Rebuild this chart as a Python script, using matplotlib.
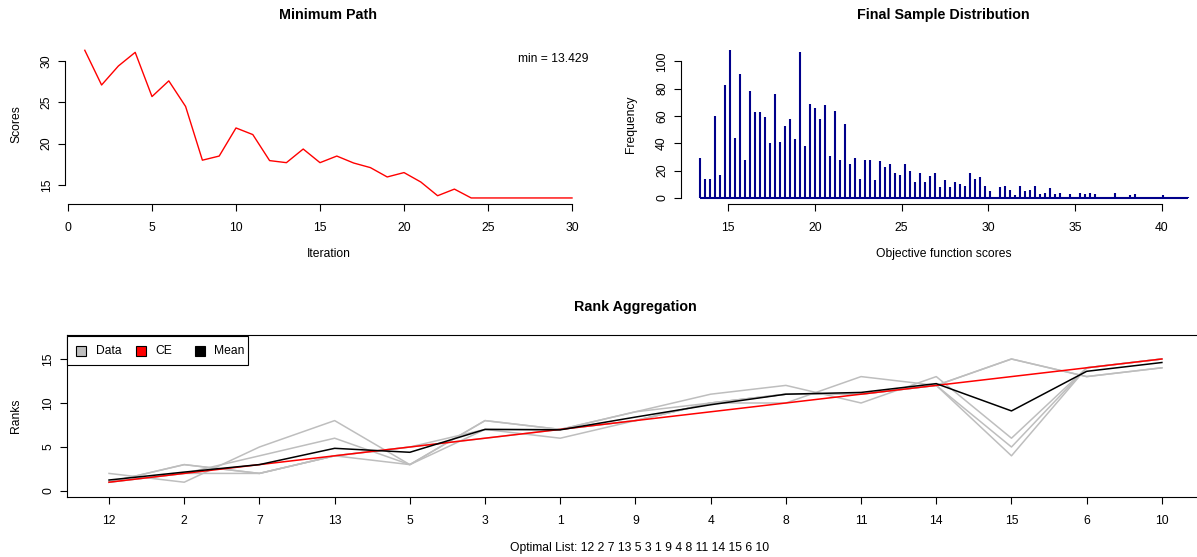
import matplotlib
matplotlib.use("Agg")
import matplotlib.pyplot as plt
from matplotlib.patches import Rectangle
import numpy as np

plt.rcParams['font.family'] = ['Liberation Sans', 'DejaVu Sans']

# ---------------- data ----------------
iterations = np.arange(1, 31)
min_scores = [31.3, 27.1, 29.4, 31.05, 25.7, 27.6, 24.5, 18.0, 18.5, 21.9,
              21.1, 17.95, 17.7, 19.35, 17.7, 18.5, 17.66, 17.1, 15.97, 16.5,
              15.36, 13.7, 14.5, 13.429, 13.429, 13.429, 13.429, 13.429, 13.429, 13.429]
min_label = "min = 13.429"

sample_scores = [13.39, 13.68, 13.97, 14.26, 14.55, 14.84, 15.13, 15.42, 15.71, 15.99,
                 16.28, 16.57, 16.86, 17.14, 17.43, 17.72, 18.01, 18.29, 18.58, 18.87,
                 19.16, 19.45, 19.73, 20.02, 20.31, 20.60, 20.89, 21.17, 21.46, 21.75,
                 22.04, 22.32, 22.61, 22.90, 23.19, 23.48, 23.76, 24.05, 24.34, 24.63,
                 24.92, 25.20, 25.49, 25.78, 26.07, 26.36, 26.64, 26.93, 27.22, 27.51,
                 27.80, 28.08, 28.37, 28.66, 28.95, 29.24, 29.52, 29.81, 30.10, 30.39,
                 30.68, 30.96, 31.25, 31.54, 31.83, 32.12, 32.40, 32.69, 32.98, 33.27,
                 33.56, 33.84, 34.13, 34.42, 34.71, 35.00, 35.28, 35.57, 35.86, 36.15,
                 36.44, 36.72, 37.01, 37.30, 37.59, 37.88, 38.16, 38.45, 38.74, 40.04,
                 41.48]
sample_freq = [29, 14, 14, 60, 17, 83, 108, 44, 91, 28,
               78, 63, 63, 59, 40, 76, 41, 53, 58, 43,
               107, 38, 69, 66, 58, 68, 31, 64, 28, 54,
               25, 29, 14, 28, 28, 13, 27, 23, 25, 18,
               17, 25, 20, 12, 18, 12, 16, 18, 8, 13,
               8, 12, 10, 9, 18, 14, 15, 9, 5, 1,
               8, 9, 6, 2, 9, 5, 6, 9, 3, 4,
               7, 3, 4, 1, 3, 1, 4, 3, 4, 3,
               1, 1, 1, 4, 1, 1, 2, 3, 1, 2,
               1]

optimal_list = ['12', '2', '7', '13', '5', '3', '1', '9', '4', '8', '11', '14', '15', '6', '10']
data_ranks = [
    [2, 1, 5, 8, 3, 8, 7, 9, 11, 12, 10, 13, 6, 14, 15],
    [1, 3, 2, 4, 3, 8, 7, 9, 10, 10, 13, 12, 15, 13, 14],
    [1, 2, 4, 6, 3, 7, 6, 8, 10, 11, 11, 12, 5, 14, 15],
    [1, 2, 2, 4, 5, 6, 7, 8, 10, 11, 11, 12, 4, 14, 15],
    [1, 3, 2, 4, 5, 7, 7, 8, 10, 11, 11, 12, 15, 13, 14],
]
ce_ranks = [1, 2, 3, 4, 5, 6, 7, 8, 9, 10, 11, 12, 13, 14, 15]
mean_ranks = [1.25, 2.15, 3.0, 4.85, 4.4, 7.0, 6.95, 8.4, 9.8, 11.0, 11.2, 12.2, 9.1, 13.6, 14.6]
legend_labels = ['Data', 'CE', 'Mean']
legend_colors = ['#BEBEBE', 'red', 'black']

# ---------------- layout ----------------
W, H = 1197, 557
fig = plt.figure(figsize=(W / 100, H / 100), dpi=100)
fig.patch.set_facecolor('white')

def fx(px):
    return px / W

def fy(py):
    return 1 - py / H

FS = 8.7
TFS = 10.3

def style_axes(ax, box=False, xpad=8.2):
    ax.tick_params(direction='out', length=5, width=0.8, labelsize=FS, colors='black')
    ax.tick_params(axis='x', pad=xpad)
    ax.tick_params(axis='y', labelrotation=90, pad=4)
    for t in ax.get_yticklabels():
        t.set_va('center')
    if not box:
        ax.spines['top'].set_visible(False)
        ax.spines['right'].set_visible(False)
    for s in ax.spines.values():
        s.set_linewidth(0.8)

# ---- top-left: minimum path ----
ax1 = fig.add_axes([fx(65.3), fy(203.9), (591.5 - 65.3) / W, (203.9 - 44.5) / H])
ax1.plot(iterations, min_scores, color='red', lw=1.0)
ax1.set_xlim(-0.16, 31.16)
ax1.set_ylim(12.71, 32.0)
ax1.set_xticks([0, 5, 10, 15, 20, 25, 30])
ax1.set_yticks([15, 20, 25, 30])
ax1.spines['bottom'].set_bounds(0, 30)
ax1.spines['left'].set_bounds(15, 30)
style_axes(ax1)
fig.text(fx(588), fy(59), min_label, ha='right', va='center', fontsize=FS)
fig.text(fx(328.4), fy(15), "Minimum Path", ha='center', va='center', fontsize=TFS, fontweight='bold')
fig.text(fx(328.4), fy(254), "Iteration", ha='center', va='center', fontsize=FS)
fig.text(fx(16), fy(124), "Scores", ha='center', va='center', fontsize=FS, rotation=90)

# ---- top-right: final sample distribution ----
ax2 = fig.add_axes([fx(680.6), fy(203.9), 526 / W, 159.4 / H])
ax2.vlines(sample_scores, 0, sample_freq, color='#00008B', lw=1.5)
ax2.hlines(0, sample_scores[0], sample_scores[-1], color='#00008B', lw=1.5)
ax2.set_xlim(12.27, 42.57)
ax2.set_ylim(-4.32, 112.32)
ax2.set_xticks([15, 20, 25, 30, 35, 40])
ax2.set_yticks([0, 20, 40, 60, 80, 100])
ax2.spines['bottom'].set_bounds(15, 40)
ax2.spines['left'].set_bounds(0, 100)
style_axes(ax2)
fig.text(fx(943.6), fy(15), "Final Sample Distribution", ha='center', va='center', fontsize=TFS, fontweight='bold')
fig.text(fx(943.6), fy(254), "Objective function scores", ha='center', va='center', fontsize=FS)
fig.text(fx(631), fy(124), "Frequency", ha='center', va='center', fontsize=FS, rotation=90)

# ---- bottom: rank aggregation ----
ax3 = fig.add_axes([fx(66.9), fy(497), (1204 - 66.9) / W, (497 - 335.4) / H])
pos = np.arange(1, len(optimal_list) + 1)
for ranks in data_ranks:
    ax3.plot(pos, ranks, color='#BEBEBE', lw=1.1)
ax3.plot(pos, ce_ranks, color='red', lw=1.1)
ax3.plot(pos, mean_ranks, color='black', lw=1.1)
ax3.set_xlim(0.44, 15.56)
ax3.set_ylim(-0.68, 17.68)
ax3.set_xticks(pos)
ax3.set_xticklabels(optimal_list)
ax3.set_yticks([0, 5, 10, 15])
style_axes(ax3, box=True, xpad=7.6)

# legend drawn R-style (equal column widths)
def px_rect(x0, y0, x1, y1, **kw):
    r = Rectangle((fx(x0), fy(y1)), (x1 - x0) / W, (y1 - y0) / H,
                  transform=fig.transFigure, **kw)
    fig.patches.append(r)

px_rect(66.9, 336, 248.3, 364.5, facecolor='white', edgecolor='black', lw=0.8, zorder=5)
sq_x = [76, 136, 195]
txt_x = [96, 155, 214]
for lab, col, sx, tx in zip(legend_labels, legend_colors, sq_x, txt_x):
    px_rect(sx, 346, sx + 10, 355.5, facecolor=col, edgecolor='black', lw=0.8, zorder=6)
    fig.text(fx(tx), fy(351), lab, ha='left', va='center', fontsize=FS, zorder=7)

fig.text(fx(635), fy(307), "Rank Aggregation", ha='center', va='center', fontsize=TFS, fontweight='bold')
fig.text(fx(16), fy(416), "Ranks", ha='center', va='center', fontsize=FS, rotation=90)
fig.text(fx(640), fy(548), "Optimal List: " + " ".join(optimal_list), ha='center', va='center', fontsize=FS)

fig.savefig("out.png", dpi=100, facecolor='white')
